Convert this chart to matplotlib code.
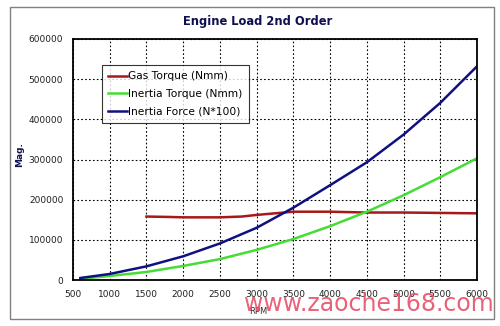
import matplotlib
matplotlib.use("Agg")
import matplotlib.pyplot as plt
from matplotlib.patches import Rectangle

rpm = [600, 1000, 1500, 2000, 2500, 3000, 3500, 4000, 4500, 5000, 5500, 6000]
inertia_force = [5000, 15000, 34000, 59000, 91000, 130000, 180000, 236000, 293000, 362000, 441000, 532000]
inertia_torque = [3000, 10000, 20000, 35000, 52000, 75000, 102000, 134000, 170000, 211000, 256000, 303000]

gas_rpm = [1500, 1800, 2000, 2500, 2800, 3000, 3500, 4000, 4500, 5000, 5500, 6000]
gas_torque = [158000, 157000, 156000, 156000, 158000, 162000, 170000, 170000, 168000, 168000, 167000, 166000]

xticks = [500, 1000, 1500, 2000, 2500, 3000, 3500, 4000, 4500, 5000, 5500, 6000]
yticks = [0, 100000, 200000, 300000, 400000, 500000, 600000]

fig = plt.figure(figsize=(5.0, 3.26), dpi=100)
W, H = 500, 326
fig.patches.append(Rectangle((10 / W, 1 - 319 / H), 484 / W, 312 / H,
                             transform=fig.transFigure, fill=False,
                             edgecolor="#808080", linewidth=1.0))

ax = fig.add_axes([73 / W, 1 - 280 / H, 404 / W, 241 / H])
ax.plot(gas_rpm, gas_torque, color="#a81818", lw=1.8, label="Gas Torque (Nmm)")
ax.plot(rpm, inertia_torque, color="#44dd33", lw=1.8, label="Inertia Torque (Nmm)")
ax.plot(rpm, inertia_force, color="#101080", lw=1.8, label="Inertia Force (N*100)")

ax.set_xlim(500, 6000)
ax.set_ylim(0, 600000)
ax.set_xticks(xticks)
ax.set_yticks(yticks)
ax.set_xticklabels([str(v) for v in xticks], fontsize=6.5, color="#202020")
ax.set_yticklabels([str(v) for v in yticks], fontsize=6.5, color="#202020")
ax.tick_params(length=0, pad=7)
ax.grid(True, color="black", linestyle=(0, (1.5, 2)), linewidth=0.8)
for s in ax.spines.values():
    s.set_linewidth(1.3)
    s.set_color("black")

fig.text(20 / W, 1 - 155 / H, "Mag.", fontsize=6.5, color="#101050",
         fontweight="bold", rotation=90, ha="center", va="center")
fig.text(258 / W, 1 - 311 / H, "RPM", fontsize=6, color="#303030",
         ha="center", va="center")

fig.text(258 / W, 1 - 21 / H, "Engine Load 2nd Order", fontsize=8.3,
         fontweight="bold", color="#101050", ha="center", va="center")

leg = ax.legend(loc="upper left", bbox_to_anchor=((102 - 73) / 404, (280 - 65) / 241),
                fontsize=7.7, frameon=True, fancybox=False, edgecolor="black",
                handlelength=1.7, handletextpad=0.15, borderpad=0.6, labelspacing=0.7,
                borderaxespad=0)
leg.get_frame().set_linewidth(0.8)

fig.text(369 / W, 1 - 311 / H, "www.zaoche168.com", fontsize=17,
         color="#e8506a", ha="center", va="baseline", alpha=0.9)

fig.savefig("out.png", dpi=100)
